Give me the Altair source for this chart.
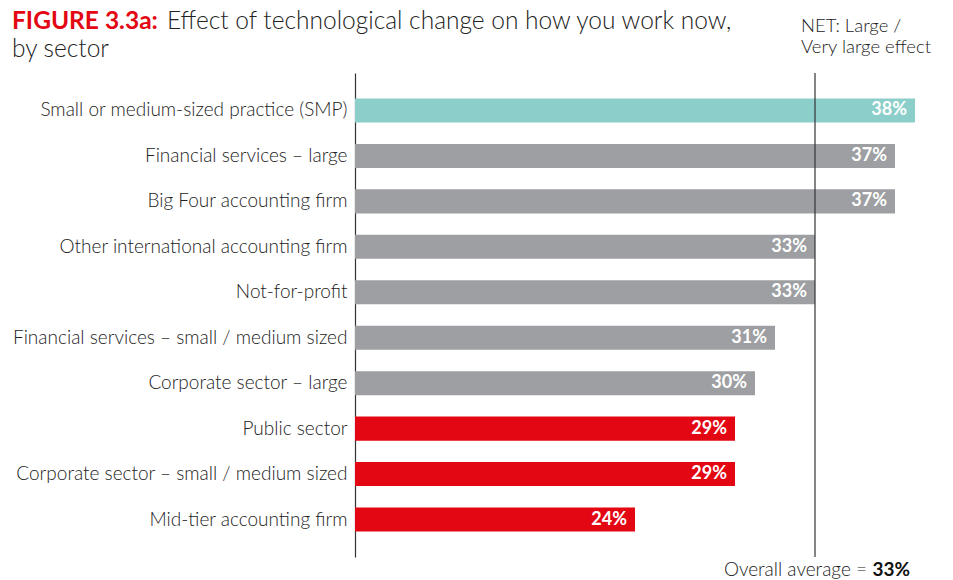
import altair as alt
import pandas as pd

categories = [
    "Small or medium-sized practice (SMP)",
    "Financial services – large",
    "Big Four accounting firm",
    "Other international accounting firm",
    "Not-for-profit",
    "Financial services – small / medium sized",
    "Corporate sector – large",
    "Public sector",
    "Corporate sector – small / medium sized",
    "Mid-tier accounting firm",
]
values = [38, 37, 37, 33, 33, 31, 30, 29, 29, 24]
groups = ["smp", "mid", "mid", "mid", "mid", "mid", "mid", "low", "low", "low"]
average = 33

df = pd.DataFrame({"cat": categories, "val": values, "grp": groups})
df["lbl"] = df["val"].astype(str) + "%"

FONT = "Lato"
W, H = 580, 484

x_scale = alt.Scale(domain=[10, 39], nice=False, zero=False)
y_enc = alt.Y("cat:N", sort=categories,
              scale=alt.Scale(paddingInner=0.47, paddingOuter=0.56),
              axis=alt.Axis(title=None, ticks=False, labelFont=FONT, labelFontSize=19,
                            labelFontWeight=300,
                            labelColor="#222222", labelPadding=8, domainColor="#333333",
                            domainWidth=1.2, labelLimit=400))

base = alt.Chart(df)

bars = base.mark_bar().encode(
    x=alt.X("val:Q", scale=x_scale, axis=None),
    x2=alt.datum(10),
    y=y_enc,
    color=alt.Color("grp:N", scale=alt.Scale(domain=["smp", "mid", "low"],
                                             range=["#8ccfca", "#9d9fa2", "#e30613"]),
                    legend=None),
)

labels = base.mark_text(align="right", baseline="middle", dx=-8, font=FONT,
                        fontSize=18, fontWeight="bold", color="white").encode(
    x=alt.X("val:Q", scale=x_scale, axis=None),
    y=alt.Y("cat:N", sort=categories),
    text="lbl:N",
)

avg_rule = alt.Chart(pd.DataFrame({"a": [average]})).mark_rule(
    color="#333333", strokeWidth=1.2).encode(
    x=alt.X("a:Q", scale=x_scale),
    y=alt.value(0), y2=alt.value(H),
)

def txt(s, x, y, size=16, weight=300, color="#222222", align="left"):
    return alt.Chart(pd.DataFrame({"t": [s]})).mark_text(
        align=align, baseline="alphabetic", font=FONT, fontSize=size,
        fontWeight=weight, color=color).encode(
        text="t:N", x=alt.value(x), y=alt.value(y))

ox, oy = 355, 73  # page position of plot origin
texts = [
    txt("FIGURE 3.3a:", 12 - ox, 29 - oy, size=24.5, weight="bold", color="#e30613"),
    txt("Effect of technological change on how you work now,", 167 - ox, 29 - oy, size=24.5),
    txt("by sector", 12 - ox, 57 - oy, size=24.5),
    txt("NET: Large /", 801 - ox, 32 - oy, size=18.5),
    txt("Very large effect", 801 - ox, 53 - oy, size=18.5),
    txt("Overall average =", 867 - ox, 576 - oy, size=19, align="right"),
    txt("33%", 910 - ox, 576 - oy, size=19, weight="bold", align="right", color="#111111"),
]

total_h = 580 - 8
chart = alt.layer(bars, labels, avg_rule, *texts).properties(
    width=W, height=H,
    autosize=alt.AutoSizeParams(type="none"),
    padding={"left": ox - 8, "top": oy - 8, "right": 937 - (ox - 8) - W,
             "bottom": total_h - (oy - 8) - H},
).configure(background="white").configure_view(stroke=None)

chart.save("out.html", embed_options={"renderer": "svg", "actions": False})
